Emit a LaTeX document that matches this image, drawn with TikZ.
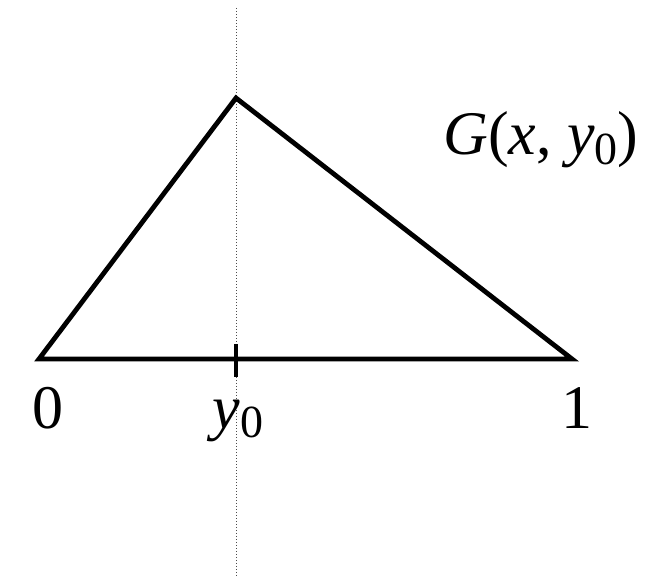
\documentclass[tikz,border=0pt]{standalone}
\usepackage{fontspec}
\setmainfont{Liberation Serif}
\usetikzlibrary{positioning}
\newcommand{\subz}{\raisebox{-0.16em}{\fontsize{23}{24}\selectfont 0}}
\newcommand{\yzero}{\textit{y}\subz}

\begin{document}
\begin{tikzpicture}[x=0.5pt, y=-0.5pt,
  font=\fontsize{31}{34}\selectfont,
  edge/.style={line width=2.4pt, line join=miter},
  guide/.style={line width=0.5pt, black!70, dash pattern=on 0.6pt off 0.9pt},
  lbl/.style={anchor=base, inner sep=0pt}]
  \useasboundingbox (0,0) rectangle (664,577);
  % ---- guide at y_0 ----
  \coordinate (gtop) at (236,8);
  \coordinate (gbot) at (236,577);
  \draw[guide] (gtop) -- (gbot);
  % ---- triangle ----
  \coordinate (left) at (39,359);
  \coordinate (apex) at (236,98);
  \coordinate (right) at (572,359);
  \draw[edge] (left) -- (apex) -- (right) -- cycle;
  \coordinate (ttop) at (236,344);
  \coordinate (tbot) at (236,377);
  \draw[line width=2.4pt] (ttop) -- (tbot);
  % ---- labels ----
  \node[lbl] (zero) at (48,428) {0};
  \node[lbl] (yz) at (238,428) {\yzero};
  \node[lbl] (one) at (577,428) {1};
  \node[lbl] (gfun) at (541,155) {\textit{G}(\textit{x}, \yzero)};
\end{tikzpicture}
\end{document}
